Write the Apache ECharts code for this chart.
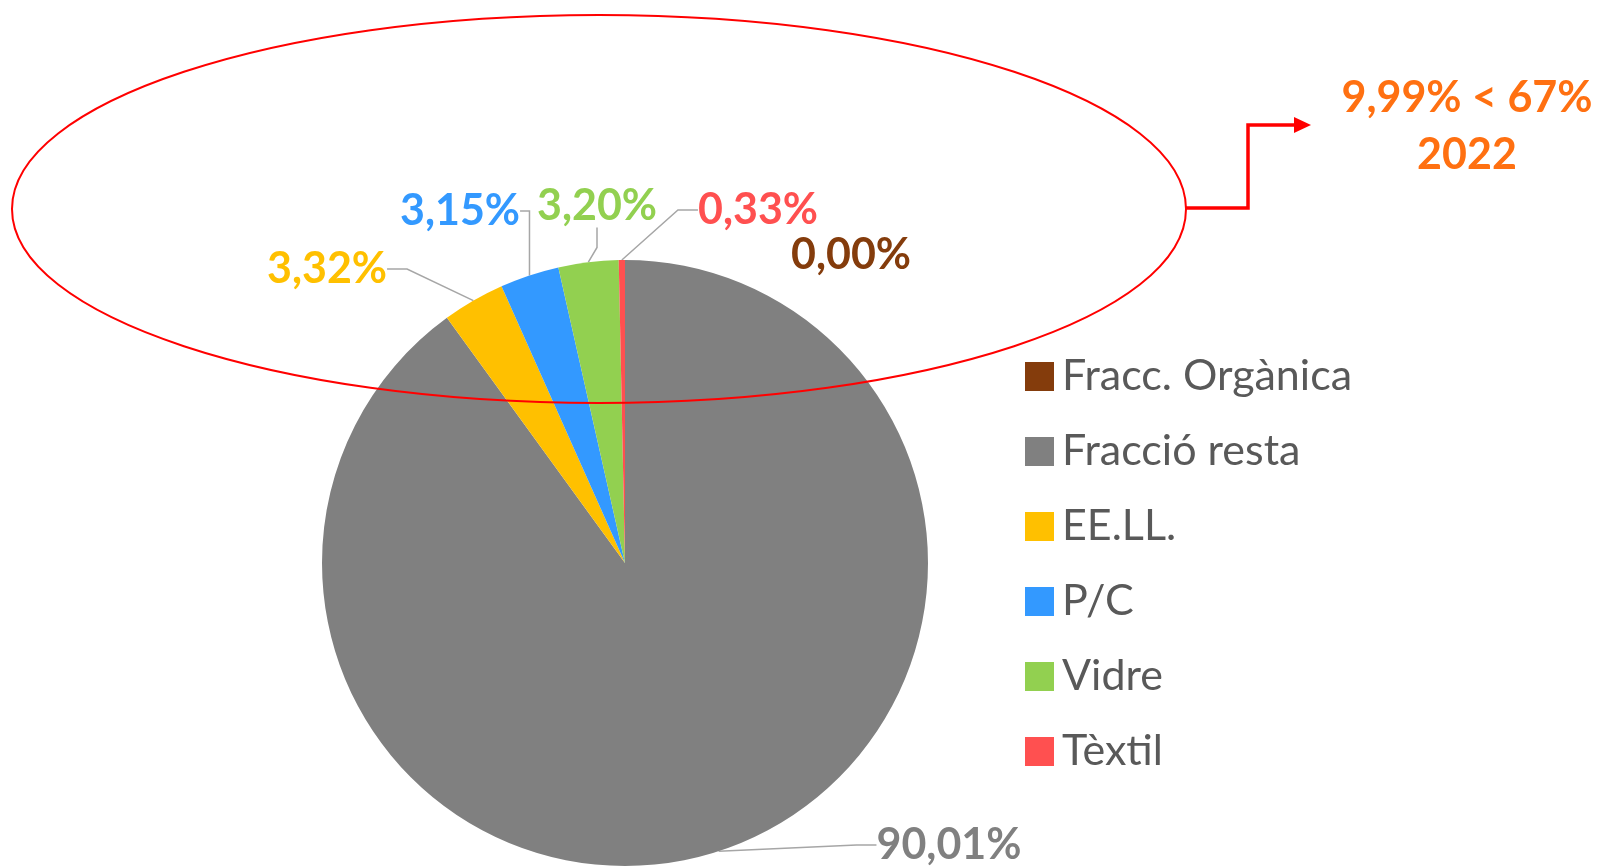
<!DOCTYPE html>
<html>
<head>
<meta charset="utf-8">
<title>Fraccions</title>
<script src="https://cdn.jsdelivr.net/npm/echarts@6/dist/echarts.min.js"></script>
<style>
    html,body{margin:0;padding:0;background:#fff;}
    .char{width:1601px;height:868px;}
</style>
</head>
<body>
<div class="char"></div>
<script>
var categories = ['Fracc. Orgànica', 'Fracció resta', 'EE.LL.', 'P/C', 'Vidre', 'Tèxtil'];
var values = [0.00, 90.01, 3.32, 3.15, 3.20, 0.33];
var colors = ['#843C0C', '#808080', '#FFC000', '#3399FF', '#92D050', '#FF5050'];
// where each percentage label sits (pixels)
var labelPos = [[851, 255], [949, 845], [327, 269], [460, 211], [597, 206], [758, 210]];
var noteLines = ['9,99% < 67%', '2022'];

(function(){
    var myChart = echarts.init(document.querySelector(".char"))
    var font = 'Lato, "Open Sans", sans-serif';

    var pieData = categories.map(function(name, i){
        return {
            name: name,
            value: values[i],
            itemStyle: {color: colors[i]},
            label: {color: colors[i]},
            labelLine: {show: values[i] > 0}
        };
    });

    var option = {
        animation: false,
        legend: {
            data: categories,
            orient: 'vertical',
            left: 1020,
            top: 350,
            itemWidth: 29,
            itemHeight: 29,
            itemGap: 32,
            icon: 'rect',
            selectedMode: false,
            textStyle: {
                fontFamily: font,
                fontSize: 43,
                lineHeight: 42,
                color: '#595959',
                padding: [0, 0, 0, 3]
            }
        },
        series: [{
            type: 'pie',
            center: [625, 563],
            radius: 303,
            startAngle: 90,
            clockwise: true,
            data: pieData,
            itemStyle: {borderWidth: 0},
            label: {
                show: true,
                position: 'outside',
                fontFamily: font,
                fontWeight: 'bold',
                fontSize: 43,
                formatter: function(p){
                    return p.value.toFixed(2).replace('.', ',') + '%';
                }
            },
            labelLine: {
                show: true,
                length: 20,
                length2: 20,
                lineStyle: {color: '#A6A6A6', width: 1.5}
            },
            labelLayout: function(params){
                var pos = labelPos[params.dataIndex];
                return {x: pos[0], y: pos[1], align: 'center', verticalAlign: 'middle'};
            },
            emphasis: {disabled: true}
        }],
        graphic: [
            {
                type: 'ellipse',
                z: 100,
                shape: {cx: 599, cy: 209, rx: 587, ry: 194},
                style: {fill: 'none', stroke: '#FF0000', lineWidth: 2}
            },
            {
                type: 'polyline',
                z: 100,
                shape: {points: [[1186, 208], [1248, 208], [1248, 125], [1296, 125]]},
                style: {fill: 'none', stroke: '#FF0000', lineWidth: 3.5}
            },
            {
                type: 'polygon',
                z: 100,
                shape: {points: [[1294, 117], [1311, 125], [1294, 133]]},
                style: {fill: '#FF0000'}
            },
            {
                type: 'text',
                z: 100,
                x: 1467,
                y: 98,
                style: {
                    text: noteLines[0],
                    fill: '#FF7011',
                    font: 'bold 43px ' + font,
                    align: 'center',
                    verticalAlign: 'middle'
                }
            },
            {
                type: 'text',
                z: 100,
                x: 1467,
                y: 155,
                style: {
                    text: noteLines[1],
                    fill: '#FF7011',
                    font: 'bold 43px ' + font,
                    align: 'center',
                    verticalAlign: 'middle'
                }
            }
        ]
    };
    myChart.setOption(option);
    window.addEventListener("resize",function(){
        myChart.resize();
    })
})();
</script>
</body>
</html>
